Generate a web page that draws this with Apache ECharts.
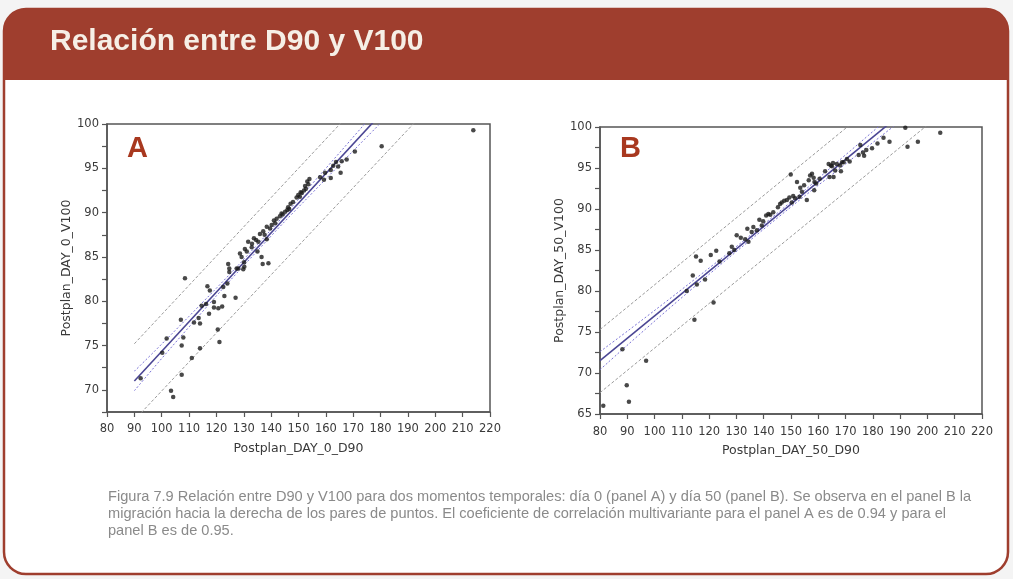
<!DOCTYPE html>
<html>
<head>
<meta charset="utf-8">
<title>Relación entre D90 y V100</title>
<script src="https://cdn.jsdelivr.net/npm/echarts@6/dist/echarts.min.js"></script>
<style>
  html, body { margin: 0; padding: 0; background: #f4f4f4; }
  #chart { width: 1013px; height: 579px; }
</style>
</head>
<body>
<div id="chart"></div>
<script>
// Panel A: día 0 — [D90, V100] pairs
const pointsA = [
  [92.3,71.3],[100.2,74.2],[101.8,75.8],[103.4,69.9],[104.2,69.2],[107.0,77.9],[107.3,75.0],
  [107.9,75.9],[107.3,71.7],[108.5,82.6],[111.0,73.6],[111.8,77.6],[113.5,78.1],[114.0,77.5],
  [114.0,74.7],[114.6,79.5],[116.2,79.7],[116.7,81.7],[117.6,81.2],[117.3,78.6],[119.1,79.9],
  [119.1,79.3],[120.7,79.2],[122.1,79.4],[120.5,76.8],[121.1,75.4],[122.9,80.6],[122.5,81.6],
  [124.0,82.0],[127.0,80.4],[124.3,84.2],[124.7,83.7],[124.7,83.3],[127.4,83.7],[128.0,83.7],
  [129.2,85.0],[128.6,85.4],[129.8,83.6],[130.2,83.9],[130.1,84.4],[131.1,85.6],[131.6,86.7],
  [130.4,85.9],[132.9,86.1],[133.0,86.5],[133.7,87.1],[134.5,86.9],[135.0,85.6],[135.3,86.7],
  [135.9,87.6],[136.5,85.0],[136.9,84.2],[139.0,84.3],[138.4,87.0],[137.1,87.9],[137.6,87.5],
  [138.4,88.4],[139.6,88.2],[140.2,88.6],[141.0,89.1],[141.5,88.8],[142.0,89.3],[143.2,89.6],
  [143.8,89.9],[144.2,89.8],[145.1,90.1],[145.9,90.3],[146.2,90.6],[146.6,90.4],[147.1,91.0],
  [148.0,91.2],[149.3,91.7],[149.9,92.0],[150.5,91.8],[150.8,92.3],[151.2,92.2],[152.0,92.5],
  [152.4,93.0],[152.7,92.7],[153.6,93.2],[153.2,93.5],[154.0,93.8],[157.9,94.0],[159.3,93.7],
  [159.7,94.5],[161.8,93.9],[161.8,94.8],[162.7,95.3],[163.7,95.7],[164.5,95.2],[165.4,94.5],
  [165.8,95.8],[167.6,96.0],[170.6,96.9],[180.4,97.5],[213.9,99.3]
];

// Panel B: día 50 — [D90, V100] pairs
const pointsB = [
  [81.2,66.0],[88.2,72.9],[89.8,68.5],[90.6,66.5],[96.9,71.5],[111.8,80.0],[114.0,81.9],
  [114.6,76.5],[115.2,84.2],[115.5,80.8],[116.9,83.7],[118.5,81.4],[120.6,84.4],[122.6,84.9],
  [121.6,78.6],[123.8,83.6],[127.4,84.6],[128.3,85.4],[129.2,85.0],[130.1,86.8],[131.6,86.5],
  [133.2,86.3],[134.0,87.6],[134.4,86.0],[135.6,87.2],[136.2,87.8],[137.5,87.4],[138.4,88.7],
  [139.3,88.0],[139.8,88.5],[140.9,89.2],[141.7,89.4],[142.4,89.3],[143.5,89.6],[145.2,90.2],
  [146.0,90.6],[146.6,90.8],[147.5,91.0],[148.5,91.1],[149.4,91.4],[149.9,94.2],[150.3,90.8],
  [150.8,91.6],[151.5,91.3],[152.2,93.3],[153.1,91.5],[153.4,92.6],[154.0,92.1],[154.8,92.9],
  [155.8,91.1],[156.5,93.5],[157.0,94.1],[157.7,94.3],[158.3,93.8],[158.5,92.3],[158.6,93.3],
  [159.2,93.1],[160.5,93.7],[162.5,94.6],[163.8,95.5],[164.1,93.9],[164.6,95.3],[165.0,95.2],
  [165.4,95.6],[165.6,93.9],[166.2,94.7],[166.8,95.5],[168.0,95.3],[168.3,94.6],[168.7,95.7],
  [169.3,95.7],[170.5,96.1],[171.5,95.8],[174.8,96.6],[175.4,97.8],[176.4,96.9],[176.8,96.5],
  [177.6,97.2],[179.7,97.4],[181.7,98.0],[183.9,98.7],[186.1,98.2],[191.9,99.9],[192.7,97.6],
  [196.5,98.2],[204.7,99.3]
];

// Fitted line, confidence band of the fit and prediction band (panel A)
const fitA       = [[90,71.0],[180,101.1]];
const confUpA    = [[90,72.1],[110,78.3],[135,86.4],[160,95.0],[180,102.1]];
const confLoA    = [[90,69.9],[110,77.1],[135,85.7],[160,93.8],[180,100.1]];
const predUpA    = [[90,75.2],[170,101.6]];
const predLoA    = [[90,66.6],[195,101.0]];

// Same for panel B
const fitB       = [[80,71.5],[190,101.5]];
const confUpB    = [[80,72.6],[110,80.2],[145,89.5],[170,96.6],[190,102.3]];
const confLoB    = [[80,70.4],[110,79.2],[145,88.9],[170,95.5],[190,100.7]];
const predUpB    = [[80,75.3],[175,101.2]];
const predLoB    = [[80,67.6],[205,101.6]];

// Axis ticks
const xTicks = { min: 80, max: 220, interval: 10 };
const yTicksA = { min: 67.5, max: 100, interval: 2.5 };
const yTicksB = { min: 65, max: 100, interval: 2.5 };

const xNames = ['Postplan_DAY_0_D90', 'Postplan_DAY_50_D90'];
const yNames = ['Postplan_DAY_0_V100', 'Postplan_DAY_50_V100'];
const panelLetters = ['A', 'B'];

const titleText = 'Relación entre D90 y V100';
const captionLines = [
  'Figura 7.9 Relación entre D90 y V100 para dos momentos temporales: día 0 (panel A) y día 50 (panel B). Se observa en el panel B la',
  'migración hacia la derecha de los pares de puntos. El coeficiente de correlación multivariante para el panel A es de 0.94 y para el',
  'panel B es de 0.95.'
];

const BRICK = '#9f3e2e';
const AXIS = '#555';
const TXT = '#3a3a3a';
const FONT = 'DejaVu Sans';

const grids = [
  { left: 107, top: 124, width: 383, height: 288 },
  { left: 600, top: 127, width: 382, height: 287 }
];

function xAxisFor(i) {
  return {
    type: 'value', gridIndex: i,
    min: xTicks.min, max: xTicks.max, interval: xTicks.interval,
    name: xNames[i], nameLocation: 'middle', nameGap: i === 0 ? 30 : 30,
    nameTextStyle: { fontFamily: FONT, fontSize: 12.5, color: TXT },
    axisLine: { show: true, lineStyle: { color: AXIS, width: 1.5 } },
    axisTick: { show: true, length: 5, lineStyle: { color: AXIS, width: 1.2 } },
    axisLabel: { fontFamily: FONT, fontSize: 11.5, color: TXT, margin: i === 0 ? 11 : 12 },
    splitLine: { show: false }
  };
}

function yAxisFor(i, t) {
  return {
    type: 'value', gridIndex: i,
    min: t.min, max: t.max, interval: t.interval,
    name: yNames[i], nameLocation: 'middle', nameRotate: 90, nameGap: 31,
    nameTextStyle: { fontFamily: FONT, fontSize: 12.5, color: TXT },
    axisLine: { show: true, lineStyle: { color: AXIS, width: 1.5 } },
    axisTick: { show: true, length: 5, lineStyle: { color: AXIS, width: 1.2 } },
    axisLabel: {
      fontFamily: FONT, fontSize: 11.5, color: TXT, margin: 8,
      formatter: v => (Math.abs(v % 5) < 1e-9 ? String(v) : '')
    },
    splitLine: { show: false }
  };
}

function lineSeries(i, data, color, width, type, smooth) {
  return {
    type: 'line', xAxisIndex: i, yAxisIndex: i, data: data,
    showSymbol: false, symbol: 'none', smooth: !!smooth, silent: true, clip: true,
    lineStyle: { color: color, width: width, type: type },
    z: 2
  };
}

function panelSeries(i, pts, fit, cu, cl, pu, pl) {
  return [
    lineSeries(i, pu, '#9a9a9a', 1, [3, 2]),
    lineSeries(i, pl, '#9a9a9a', 1, [3, 2]),
    lineSeries(i, cu, '#7b74d6', 1, [2, 2], true),
    lineSeries(i, cl, '#7b74d6', 1, [2, 2], true),
    lineSeries(i, fit, '#4b4694', 1.6, 'solid'),
    {
      type: 'scatter', xAxisIndex: i, yAxisIndex: i, data: pts,
      symbolSize: 4.5, itemStyle: { color: '#1c1c1c' }, silent: true, z: 3
    }
  ];
}

const chart = echarts.init(document.getElementById('chart'), null, { renderer: 'canvas' });

const graphics = [
  // card body with brick border
  {
    type: 'rect', z: -10, silent: true,
    shape: { x: 4, y: 9, width: 1004, height: 565, r: 22 },
    style: { fill: '#ffffff', stroke: BRICK, lineWidth: 2.5 }
  },
  // header band
  {
    type: 'rect', z: -9, silent: true,
    shape: { x: 4, y: 9, width: 1004, height: 71, r: [22, 22, 0, 0] },
    style: { fill: BRICK }
  },
  {
    type: 'text', z: 10, silent: true, left: 50, top: 27,
    style: { text: titleText, fill: '#f6efe6', font: 'bold 30px "Liberation Sans", Arial, sans-serif' }
  },
  {
    type: 'text', z: 10, silent: true, left: 127, top: 134,
    style: { text: panelLetters[0], fill: '#a8381f', font: 'bold 29px "Liberation Sans", Arial, sans-serif' }
  },
  {
    type: 'text', z: 10, silent: true, left: 620, top: 134,
    style: { text: panelLetters[1], fill: '#a8381f', font: 'bold 29px "Liberation Sans", Arial, sans-serif' }
  }
];

captionLines.forEach((line, k) => {
  graphics.push({
    type: 'text', z: 10, silent: true, left: 108, top: 489 + k * 17,
    style: { text: line, fill: '#8a8a8a', font: '14.6px "Liberation Sans", Arial, sans-serif' }
  });
});

chart.setOption({
  animation: false,
  backgroundColor: 'transparent',
  grid: grids.map(g => Object.assign({
    show: true, backgroundColor: '#ffffff', borderColor: AXIS, borderWidth: 1.5, containLabel: false
  }, g)),
  xAxis: [xAxisFor(0), xAxisFor(1)],
  yAxis: [yAxisFor(0, yTicksA), yAxisFor(1, yTicksB)],
  series: [].concat(
    panelSeries(0, pointsA, fitA, confUpA, confLoA, predUpA, predLoA),
    panelSeries(1, pointsB, fitB, confUpB, confLoB, predUpB, predLoB)
  ),
  graphic: graphics
});
</script>
</body>
</html>
